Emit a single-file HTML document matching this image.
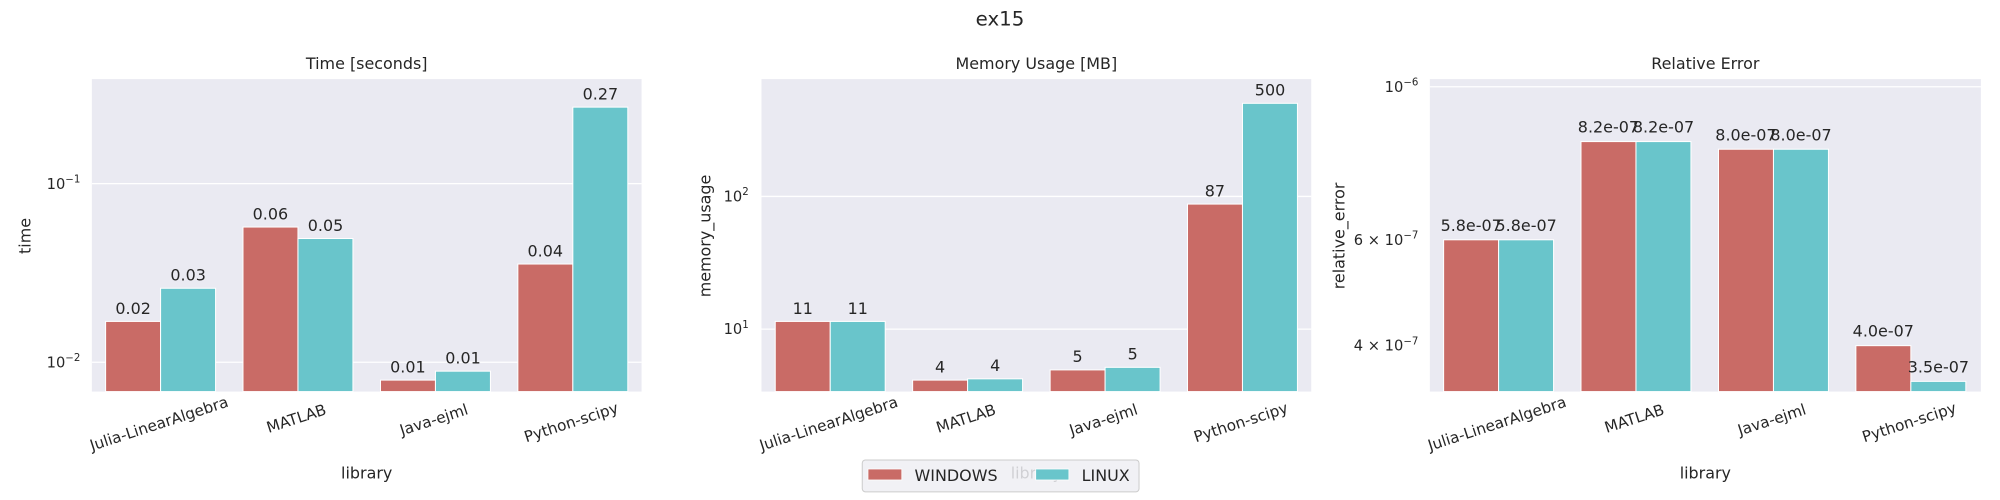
<!DOCTYPE html>
<html><head><meta charset="utf-8"><style>html,body{margin:0;padding:0;background:#fff}svg{display:block}</style></head>
<body>
<svg width="2000" height="500" viewBox="0 0 1568 392" xmlns="http://www.w3.org/2000/svg" font-family="'DejaVu Sans', 'Liberation Sans', sans-serif" fill="#262626">
<rect width="1568" height="392" fill="#fff"/>
<text x="784" y="20" font-size="15.5" text-anchor="middle">ex15</text>

<!-- Chart 1 -->
<rect x="72" y="62" width="431" height="245" fill="#eaeaf2"/>
<g stroke="#fff" stroke-width="1"><line x1="72" x2="503" y1="144" y2="144"/><line x1="72" x2="503" y1="284" y2="284"/></g>
<text x="287.5" y="54" font-size="12.5" text-anchor="middle">Time [seconds]</text>
<g font-size="11.5" text-anchor="end"><text x="63" y="148">10<tspan font-size="8" dy="-5">−1</tspan></text><text x="63" y="288">10<tspan font-size="8" dy="-5">−2</tspan></text></g>
<text transform="translate(24,185) rotate(-90)" font-size="12.5" text-anchor="middle">time</text>
<g stroke="#fff" stroke-width="0.8">
<rect x="82.8" y="252" width="43.1" height="55" fill="#c96b66"/><rect x="125.9" y="226" width="43.1" height="81" fill="#69c5cb"/>
<rect x="190.5" y="178" width="43.1" height="129" fill="#c96b66"/><rect x="233.6" y="187" width="43.1" height="120" fill="#69c5cb"/>
<rect x="298.3" y="298" width="43.1" height="9" fill="#c96b66"/><rect x="341.4" y="291" width="43.1" height="16" fill="#69c5cb"/>
<rect x="406" y="207" width="43.1" height="100" fill="#c96b66"/><rect x="449.1" y="84" width="43.1" height="223" fill="#69c5cb"/>
</g>
<g font-size="12.5" text-anchor="middle">
<text x="104.4" y="246">0.02</text><text x="147.5" y="220">0.03</text>
<text x="212" y="172">0.06</text><text x="255.2" y="181">0.05</text>
<text x="319.8" y="292">0.01</text><text x="363" y="285">0.01</text>
<text x="427.5" y="201">0.04</text><text x="470.7" y="78">0.27</text>
</g>
<g font-size="12" text-anchor="middle">
<text transform="translate(125.9,336) rotate(-18)">Julia-LinearAlgebra</text>
<text transform="translate(233.6,332) rotate(-18)">MATLAB</text>
<text transform="translate(341.4,333) rotate(-18)">Java-ejml</text>
<text transform="translate(449.1,335) rotate(-18)">Python-scipy</text>
</g>
<text x="287.5" y="375" font-size="12.5" text-anchor="middle">library</text>

<!-- Chart 2 -->
<rect x="597" y="62" width="431" height="245" fill="#eaeaf2"/>
<g stroke="#fff" stroke-width="1"><line x1="597" x2="1028" y1="154" y2="154"/><line x1="597" x2="1028" y1="258" y2="258"/></g>
<text x="812.5" y="54" font-size="12.5" text-anchor="middle">Memory Usage [MB]</text>
<g font-size="11.5" text-anchor="end"><text x="587" y="158">10<tspan font-size="8" dy="-5">2</tspan></text><text x="587" y="262">10<tspan font-size="8" dy="-5">1</tspan></text></g>
<text transform="translate(557,185) rotate(-90)" font-size="12.5" text-anchor="middle">memory_usage</text>
<g stroke="#fff" stroke-width="0.8">
<rect x="607.8" y="252" width="43.1" height="55" fill="#c96b66"/><rect x="650.9" y="252" width="43.1" height="55" fill="#69c5cb"/>
<rect x="715.5" y="298" width="43.1" height="9" fill="#c96b66"/><rect x="758.6" y="297" width="43.1" height="10" fill="#69c5cb"/>
<rect x="823.3" y="290" width="43.1" height="17" fill="#c96b66"/><rect x="866.4" y="288" width="43.1" height="19" fill="#69c5cb"/>
<rect x="931" y="160" width="43.1" height="147" fill="#c96b66"/><rect x="974.1" y="81" width="43.1" height="226" fill="#69c5cb"/>
</g>
<g font-size="12.5" text-anchor="middle">
<text x="629.4" y="246">11</text><text x="672.5" y="246">11</text>
<text x="737" y="292">4</text><text x="780.2" y="291">4</text>
<text x="844.8" y="284">5</text><text x="888" y="282">5</text>
<text x="952.5" y="154">87</text><text x="995.7" y="75">500</text>
</g>
<g font-size="12" text-anchor="middle">
<text transform="translate(650.9,336) rotate(-18)">Julia-LinearAlgebra</text>
<text transform="translate(758.6,332) rotate(-18)">MATLAB</text>
<text transform="translate(866.4,333) rotate(-18)">Java-ejml</text>
<text transform="translate(974.1,335) rotate(-18)">Python-scipy</text>
</g>
<text x="812.5" y="375" font-size="12.5" text-anchor="middle">library</text>

<!-- Chart 3 -->
<rect x="1121" y="62" width="432" height="245" fill="#eaeaf2"/>
<g stroke="#fff" stroke-width="1"><line x1="1121" x2="1553" y1="68" y2="68"/></g>
<text x="1337" y="54" font-size="12.5" text-anchor="middle">Relative Error</text>
<g font-size="11.5" text-anchor="end"><text x="1112" y="72">10<tspan font-size="8" dy="-5">−6</tspan></text><text x="1112" y="192">6 × 10<tspan font-size="8" dy="-5">−7</tspan></text><text x="1112" y="275">4 × 10<tspan font-size="8" dy="-5">−7</tspan></text></g>
<text transform="translate(1054,185) rotate(-90)" font-size="12.5" text-anchor="middle">relative_error</text>
<g stroke="#fff" stroke-width="0.8">
<rect x="1131.8" y="188" width="43.1" height="119" fill="#c96b66"/><rect x="1174.9" y="188" width="43.1" height="119" fill="#69c5cb"/>
<rect x="1239.5" y="111" width="43.1" height="196" fill="#c96b66"/><rect x="1282.6" y="111" width="43.1" height="196" fill="#69c5cb"/>
<rect x="1347.3" y="117" width="43.1" height="190" fill="#c96b66"/><rect x="1390.4" y="117" width="43.1" height="190" fill="#69c5cb"/>
<rect x="1455" y="271" width="43.1" height="36" fill="#c96b66"/><rect x="1498.1" y="299" width="43.1" height="8" fill="#69c5cb"/>
</g>
<g font-size="12.5" text-anchor="middle">
<text x="1153.4" y="181">5.8e-07</text><text x="1196.5" y="181">5.8e-07</text>
<text x="1261" y="104">8.2e-07</text><text x="1304.2" y="104">8.2e-07</text>
<text x="1368.8" y="110">8.0e-07</text><text x="1412" y="110">8.0e-07</text>
<text x="1476.5" y="264">4.0e-07</text><text x="1519.7" y="292">3.5e-07</text>
</g>
<g font-size="12" text-anchor="middle">
<text transform="translate(1174.9,336) rotate(-18)">Julia-LinearAlgebra</text>
<text transform="translate(1282.6,332) rotate(-18)">MATLAB</text>
<text transform="translate(1390.4,333) rotate(-18)">Java-ejml</text>
<text transform="translate(1498.1,335) rotate(-18)">Python-scipy</text>
</g>
<text x="1337" y="375" font-size="12.5" text-anchor="middle">library</text>

<!-- Legend -->
<rect x="676" y="360.6" width="217" height="25" rx="2.5" fill="#eeeef3" fill-opacity="0.85" stroke="#cccccc" stroke-width="0.8"/>
<rect x="680.5" y="367.7" width="26.5" height="8.6" fill="#c96b66" stroke="#fff" stroke-width="0.6"/>
<text x="717" y="377" font-size="12.5">WINDOWS</text>
<rect x="812" y="367.7" width="26" height="8.6" fill="#69c5cb" stroke="#fff" stroke-width="0.6"/>
<text x="848" y="377" font-size="12.5">LINUX</text>
</svg>
</body></html>
